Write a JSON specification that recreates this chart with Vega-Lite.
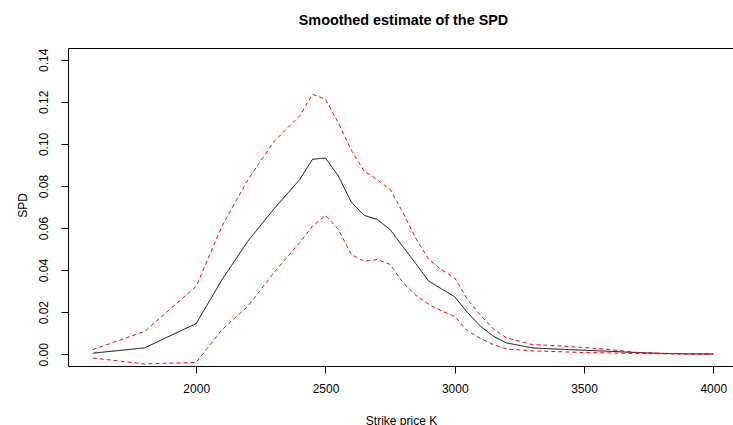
{
  "$schema": "https://vega.github.io/schema/vega-lite/v6.json",
  "autosize": "none",
  "width": 665,
  "height": 318,
  "padding": {"left": 68, "top": 48, "right": 0, "bottom": 59},
  "background": "white",
  "title": {
    "text": "Smoothed estimate of the SPD",
    "font": "Liberation Sans",
    "fontSize": 14.4,
    "fontWeight": "bold",
    "color": "black",
    "anchor": "middle",
    "baseline": "alphabetic",
    "offset": 9,
    "dx": 3
  },
  "config": {
    "view": {"stroke": null},
    "axis": {
      "labelFont": "Liberation Sans",
      "titleFont": "Liberation Sans",
      "labelFontSize": 12,
      "titleFontSize": 12,
      "titleFontWeight": "normal",
      "labelColor": "black",
      "titleColor": "black",
      "domainColor": "black",
      "tickColor": "black",
      "domainWidth": 1,
      "tickWidth": 1,
      "tickSize": 7,
      "grid": false
    }
  },
  "data": {
    "values": [
      {"K": 1600, "SPD": 0.0005, "series": "estimate"},
      {"K": 1800, "SPD": 0.003, "series": "estimate"},
      {"K": 2000, "SPD": 0.0146, "series": "estimate"},
      {"K": 2100, "SPD": 0.0355, "series": "estimate"},
      {"K": 2200, "SPD": 0.0538, "series": "estimate"},
      {"K": 2300, "SPD": 0.069, "series": "estimate"},
      {"K": 2400, "SPD": 0.083, "series": "estimate"},
      {"K": 2450, "SPD": 0.0927, "series": "estimate"},
      {"K": 2500, "SPD": 0.0933, "series": "estimate"},
      {"K": 2550, "SPD": 0.0847, "series": "estimate"},
      {"K": 2600, "SPD": 0.0723, "series": "estimate"},
      {"K": 2650, "SPD": 0.066, "series": "estimate"},
      {"K": 2700, "SPD": 0.0641, "series": "estimate"},
      {"K": 2750, "SPD": 0.0593, "series": "estimate"},
      {"K": 2800, "SPD": 0.051, "series": "estimate"},
      {"K": 2850, "SPD": 0.043, "series": "estimate"},
      {"K": 2900, "SPD": 0.0347, "series": "estimate"},
      {"K": 2950, "SPD": 0.031, "series": "estimate"},
      {"K": 3000, "SPD": 0.0273, "series": "estimate"},
      {"K": 3050, "SPD": 0.0197, "series": "estimate"},
      {"K": 3100, "SPD": 0.0133, "series": "estimate"},
      {"K": 3150, "SPD": 0.0085, "series": "estimate"},
      {"K": 3200, "SPD": 0.0054, "series": "estimate"},
      {"K": 3300, "SPD": 0.003, "series": "estimate"},
      {"K": 3400, "SPD": 0.0024, "series": "estimate"},
      {"K": 3500, "SPD": 0.0019, "series": "estimate"},
      {"K": 3600, "SPD": 0.0014, "series": "estimate"},
      {"K": 3700, "SPD": 0.0008, "series": "estimate"},
      {"K": 3800, "SPD": 0.0004, "series": "estimate"},
      {"K": 3900, "SPD": 0.0002, "series": "estimate"},
      {"K": 4000, "SPD": 0.0001, "series": "estimate"},

      {"K": 1600, "SPD": 0.0022, "series": "upper"},
      {"K": 1800, "SPD": 0.0108, "series": "upper"},
      {"K": 2000, "SPD": 0.0323, "series": "upper"},
      {"K": 2100, "SPD": 0.061, "series": "upper"},
      {"K": 2200, "SPD": 0.083, "series": "upper"},
      {"K": 2300, "SPD": 0.101, "series": "upper"},
      {"K": 2400, "SPD": 0.1133, "series": "upper"},
      {"K": 2450, "SPD": 0.1236, "series": "upper"},
      {"K": 2500, "SPD": 0.1212, "series": "upper"},
      {"K": 2550, "SPD": 0.110, "series": "upper"},
      {"K": 2600, "SPD": 0.097, "series": "upper"},
      {"K": 2650, "SPD": 0.087, "series": "upper"},
      {"K": 2700, "SPD": 0.083, "series": "upper"},
      {"K": 2750, "SPD": 0.0784, "series": "upper"},
      {"K": 2800, "SPD": 0.0673, "series": "upper"},
      {"K": 2850, "SPD": 0.055, "series": "upper"},
      {"K": 2900, "SPD": 0.045, "series": "upper"},
      {"K": 2950, "SPD": 0.040, "series": "upper"},
      {"K": 3000, "SPD": 0.0363, "series": "upper"},
      {"K": 3050, "SPD": 0.026, "series": "upper"},
      {"K": 3100, "SPD": 0.0185, "series": "upper"},
      {"K": 3150, "SPD": 0.012, "series": "upper"},
      {"K": 3200, "SPD": 0.0078, "series": "upper"},
      {"K": 3300, "SPD": 0.0046, "series": "upper"},
      {"K": 3400, "SPD": 0.004, "series": "upper"},
      {"K": 3500, "SPD": 0.0032, "series": "upper"},
      {"K": 3600, "SPD": 0.0022, "series": "upper"},
      {"K": 3700, "SPD": 0.0009, "series": "upper"},
      {"K": 3800, "SPD": 0.0004, "series": "upper"},
      {"K": 3900, "SPD": 0.0002, "series": "upper"},
      {"K": 4000, "SPD": 0.0001, "series": "upper"},

      {"K": 1600, "SPD": -0.0018, "series": "lower"},
      {"K": 1800, "SPD": -0.0046, "series": "lower"},
      {"K": 2000, "SPD": -0.0039, "series": "lower"},
      {"K": 2100, "SPD": 0.0117, "series": "lower"},
      {"K": 2200, "SPD": 0.0228, "series": "lower"},
      {"K": 2300, "SPD": 0.0387, "series": "lower"},
      {"K": 2400, "SPD": 0.053, "series": "lower"},
      {"K": 2450, "SPD": 0.0609, "series": "lower"},
      {"K": 2500, "SPD": 0.066, "series": "lower"},
      {"K": 2550, "SPD": 0.0593, "series": "lower"},
      {"K": 2600, "SPD": 0.0474, "series": "lower"},
      {"K": 2650, "SPD": 0.0442, "series": "lower"},
      {"K": 2700, "SPD": 0.045, "series": "lower"},
      {"K": 2750, "SPD": 0.0427, "series": "lower"},
      {"K": 2800, "SPD": 0.034, "series": "lower"},
      {"K": 2850, "SPD": 0.028, "series": "lower"},
      {"K": 2900, "SPD": 0.0237, "series": "lower"},
      {"K": 2950, "SPD": 0.0205, "series": "lower"},
      {"K": 3000, "SPD": 0.018, "series": "lower"},
      {"K": 3050, "SPD": 0.011, "series": "lower"},
      {"K": 3100, "SPD": 0.0075, "series": "lower"},
      {"K": 3150, "SPD": 0.0045, "series": "lower"},
      {"K": 3200, "SPD": 0.0025, "series": "lower"},
      {"K": 3300, "SPD": 0.0016, "series": "lower"},
      {"K": 3400, "SPD": 0.0012, "series": "lower"},
      {"K": 3500, "SPD": 0.0008, "series": "lower"},
      {"K": 3600, "SPD": 0.0006, "series": "lower"},
      {"K": 3700, "SPD": 0.0004, "series": "lower"},
      {"K": 3800, "SPD": 0.0002, "series": "lower"},
      {"K": 3900, "SPD": 0.0001, "series": "lower"},
      {"K": 4000, "SPD": 0.0, "series": "lower"}
    ]
  },
  "resolve": {"axis": {"x": "independent"}},
  "layer": [
    {
      "mark": {"type": "line", "strokeWidth": 1, "clip": true},
      "encoding": {
        "x": {
          "field": "K",
          "type": "quantitative",
          "scale": {"domain": [1504, 4076.5], "nice": false, "zero": false},
          "axis": {
            "orient": "bottom",
            "values": [2000, 2500, 3000, 3500, 4000],
            "format": "d",
            "labelBaseline": "top",
            "labelPadding": 10,
            "title": "Strike price K",
            "titleX": 333,
            "titleY": 58,
            "titleAlign": "center",
            "titleBaseline": "alphabetic"
          }
        },
        "y": {
          "field": "SPD",
          "type": "quantitative",
          "scale": {"domain": [-0.0056, 0.1456], "nice": false, "zero": false},
          "axis": {
            "values": [0, 0.02, 0.04, 0.06, 0.08, 0.1, 0.12, 0.14],
            "format": ".2f",
            "labelAngle": 270,
            "labelAlign": "center",
            "labelBaseline": "alphabetic",
            "labelPadding": 14,
            "title": "SPD",
            "titleAngle": 270,
            "titleX": -42,
            "titleY": 157,
            "titleAlign": "center",
            "titleBaseline": "alphabetic"
          }
        },
        "color": {
          "field": "series",
          "type": "nominal",
          "scale": {"domain": ["estimate", "upper", "lower"], "range": ["black", "#FF0000", "#FF0000"]},
          "legend": null
        },
        "strokeDash": {
          "field": "series",
          "type": "nominal",
          "scale": {"domain": ["estimate", "upper", "lower"], "range": [[1, 0], [4, 3], [4, 3]]},
          "legend": null
        }
      }
    },
    {
      "mark": {"type": "line", "opacity": 0, "clip": true},
      "encoding": {
        "x": {
          "field": "K",
          "type": "quantitative",
          "axis": {"orient": "top", "labels": false, "ticks": false, "title": null, "domain": true}
        },
        "y": {"field": "SPD", "type": "quantitative"},
        "detail": {"field": "series"}
      }
    }
  ]
}
